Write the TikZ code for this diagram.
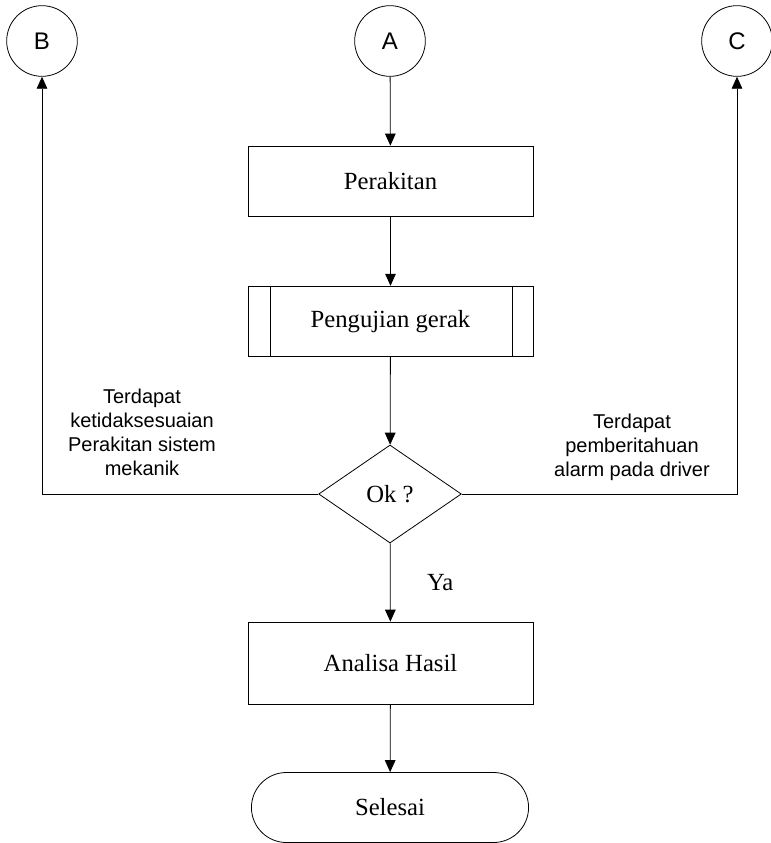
\documentclass[tikz,border=0pt]{standalone}
\usepackage{fontspec}
\setmainfont{Liberation Serif}
\setsansfont{Liberation Sans}
\usetikzlibrary{arrows.meta,shapes,positioning,calc}

\begin{document}
\begin{tikzpicture} [x=0.75pt,y=-0.75pt,line width=0.6pt,
  >={Triangle[width=8pt,length=9pt]},
  conn/.style={circle, draw, minimum size=53pt, inner sep=0pt, font=\sffamily\fontsize{18}{20}\selectfont},
  proc/.style={rectangle, draw, minimum width=213.75pt, minimum height=52.5pt, font=\fontsize{18.5}{22}\selectfont},
  lbl/.style={align=center, font=\sffamily\fontsize{15}{18}\selectfont}]
\useasboundingbox (0,0) rectangle (771,843);
\node[conn] (B) at (42,41) {B};
\node[conn] (A) at (390,41) {A};
\node[conn] (C) at (737,41) {C};
\node[proc] (rakit) at (390.5,181) {Perakitan};
\node[proc, minimum height=53pt,
  path picture={\draw ([xshift=16.5pt]path picture bounding box.north west) -- ([xshift=16.5pt]path picture bounding box.south west);
                \draw ([xshift=-15.75pt]path picture bounding box.north east) -- ([xshift=-15.75pt]path picture bounding box.south east);}]
  (uji) at (390.5,321.5) {Pengujian gerak};
\node[diamond, draw, minimum width=107pt, minimum height=73.5pt, inner sep=0pt, font=\fontsize{18.5}{22}\selectfont] (ok) at (390,494) {Ok ?};
\node[proc, minimum height=61.5pt] (hasil) at (390.5,663) {Analisa Hasil};
\node[rounded rectangle, draw, minimum width=214.5pt, minimum height=52.5pt, font=\fontsize{18.5}{22}\selectfont] (selesai) at (390,807.5) {Selesai};
\node[lbl] (salah) at (142,432) {Terdapat\\ketidaksesuaian\\Perakitan sistem\\mekanik};
\node[lbl] (alarm) at (632,447) {Terdapat\\pemberitahuan\\alarm pada driver};
\path[->] (A) edge (rakit)
          (rakit) edge (uji)
          (uji) edge (ok)
          (ok) edge node[right=24pt, font=\fontsize{18.5}{22}\selectfont, pos=0.5] {Ya} (hasil)
          (hasil) edge (selesai);
\draw[->] (ok.west) -| (B);
\draw[->] (ok.east) -| (C);
\end{tikzpicture}
\end{document}
